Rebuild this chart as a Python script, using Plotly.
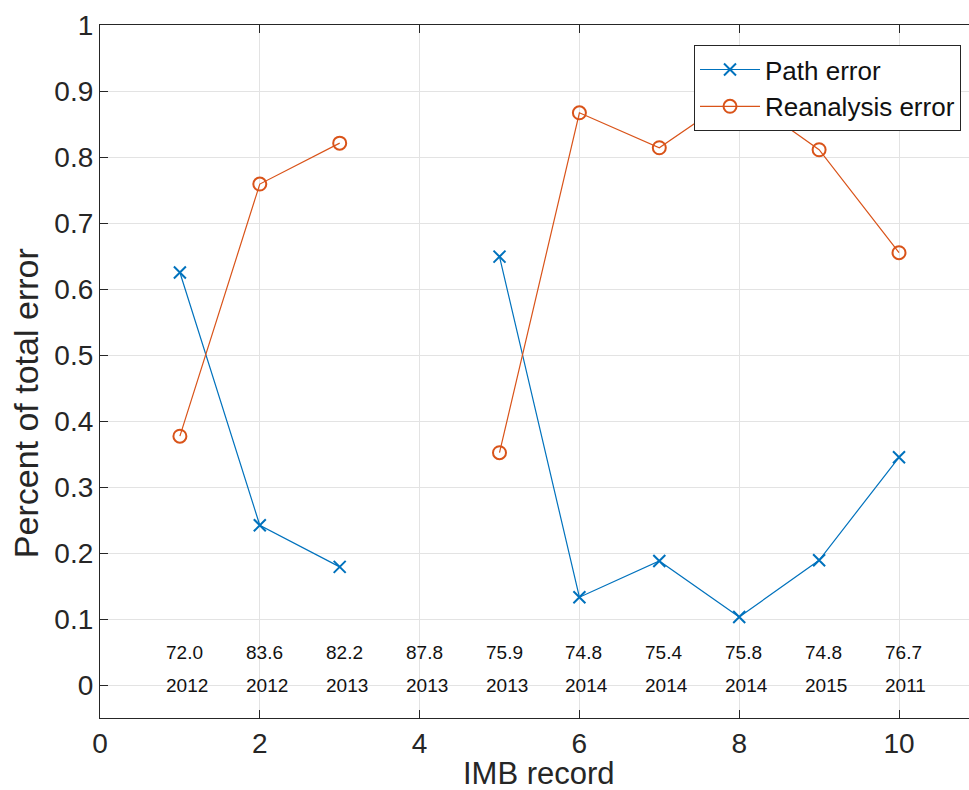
import plotly.graph_objects as go

# IMB record index and error fractions (record 4 has no decomposition)
records = [1, 2, 3, 4, 5, 6, 7, 8, 9, 10]
path_error = [0.625, 0.242, 0.179, None, 0.649, 0.133, 0.188, 0.103, 0.189, 0.345]
reanalysis_error = [0.377, 0.759, 0.821, None, 0.352, 0.867, 0.814, 0.897, 0.811, 0.655]

# Per-record annotations: value row and year row
record_values = ["72.0", "83.6", "82.2", "87.8", "75.9", "74.8", "75.4", "75.8", "74.8", "76.7"]
record_years = ["2012", "2012", "2013", "2013", "2013", "2014", "2014", "2014", "2015", "2011"]

FONT = "Liberation Sans, Arial, Helvetica, sans-serif"
INK = "#262626"
BLUE = "#0072BD"
ORANGE = "#D95319"

fig = go.Figure()
fig.add_trace(go.Scatter(
    x=records, y=path_error, name="Path error", mode="lines+markers",
    line=dict(color=BLUE, width=1.2),
    marker=dict(symbol="x-thin", size=12, line=dict(color=BLUE, width=2)),
    connectgaps=False,
))
fig.add_trace(go.Scatter(
    x=records, y=reanalysis_error, name="Reanalysis error", mode="lines+markers",
    line=dict(color=ORANGE, width=1.2),
    marker=dict(symbol="circle-open", size=13, color=ORANGE, line=dict(color=ORANGE, width=2)),
    connectgaps=False,
))

annotations = []
for x, v, yr in zip(records, record_values, record_years):
    annotations.append(dict(x=x - 0.2, y=0.05, text=v, showarrow=False, xanchor="left",
                            yanchor="middle", font=dict(family=FONT, size=19, color="#111111")))
    annotations.append(dict(x=x - 0.2, y=0.0, text=yr, showarrow=False, xanchor="left",
                            yanchor="middle", font=dict(family=FONT, size=19, color="#111111")))

# Axis titles
annotations.append(dict(xref="paper", yref="paper", x=0.5057, y=-0.052, text="IMB record",
                        showarrow=False, xanchor="center", yanchor="top",
                        font=dict(family=FONT, size=31, color=INK)))
annotations.append(dict(xref="paper", yref="paper", x=-0.085, y=0.4545, text="Percent of total error",
                        showarrow=False, xanchor="center", yanchor="middle", textangle=-90,
                        font=dict(family=FONT, size=34, color=INK)))

fig.update_layout(
    width=969, height=790,
    margin=dict(l=100, r=0, t=25, b=72),
    paper_bgcolor="white", plot_bgcolor="white",
    font=dict(family=FONT, color=INK),
    annotations=annotations,
    legend=dict(
        x=0.9908, y=0.971, xanchor="right", yanchor="top",
        bgcolor="white", bordercolor=INK, borderwidth=1,
        font=dict(family=FONT, size=26, color="#111111"),
        tracegroupgap=0, itemwidth=60,
    ),
    showlegend=True,
)

fig.update_xaxes(
    range=[0, 10.876], tickvals=[0, 2, 4, 6, 8, 10],
    showgrid=True, gridcolor="#e3e3e3", gridwidth=1, zeroline=False,
    showline=True, linecolor=INK, linewidth=1.2, mirror="ticks",
    ticks="inside", ticklen=8, tickcolor=INK,
    tickfont=dict(family=FONT, size=28, color=INK),
)
fig.update_yaxes(
    range=[-0.05, 1.0], tickvals=[0, 0.1, 0.2, 0.3, 0.4, 0.5, 0.6, 0.7, 0.8, 0.9, 1.0],
    ticktext=["0", "0.1", "0.2", "0.3", "0.4", "0.5", "0.6", "0.7", "0.8", "0.9", "1"],
    showgrid=True, gridcolor="#e3e3e3", gridwidth=1, zeroline=False,
    showline=True, linecolor=INK, linewidth=1.2, mirror=False,
    ticks="inside", ticklen=8, tickcolor=INK,
    tickfont=dict(family=FONT, size=28, color=INK),
)

fig.write_html("out.html")
